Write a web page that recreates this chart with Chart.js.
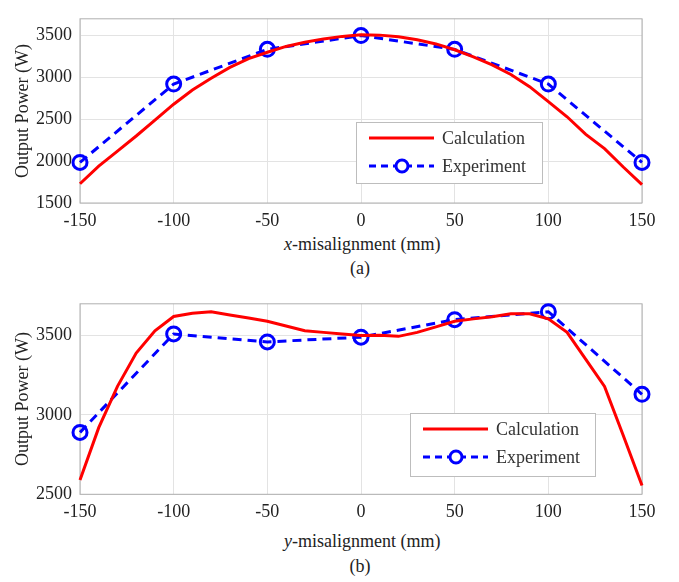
<!DOCTYPE html>
<html>
<head>
<meta charset="utf-8">
<script src="https://cdn.jsdelivr.net/npm/chart.js@4/dist/chart.umd.min.js"></script>
<style>
  body { margin: 0; background: #fff; width: 679px; height: 582px; position: relative; overflow: hidden; }
  .box { position: absolute; left: 0; width: 679px; }
  .lbl { position: absolute; left: 0; width: 720px; text-align: center; font: 18px "Liberation Serif", serif; color: #222; line-height: 20px; }
</style>
</head>
<body>
<div class="box" style="top:0;height:230px"><canvas id="chartA"></canvas></div>
<div class="lbl" style="top:234px">&nbsp;<i>x</i>-misalignment (mm)</div>
<div class="lbl" style="top:258px">(a)</div>
<div class="box" style="top:285px;height:235px"><canvas id="chartB"></canvas></div>
<div class="lbl" style="top:531px">&nbsp;<i>y</i>-misalignment (mm)</div>
<div class="lbl" style="top:556px">(b)</div>
<script>
// calculation points every 10 mm, experiment every 50 mm
var xCalc = [-150,-140,-130,-120,-110,-100,-90,-80,-70,-60,-50,-40,-30,-20,-10,0,10,20,30,40,50,60,70,80,90,100,110,120,130,140,150];
var calcA = [1730,1940,2120,2300,2490,2680,2850,2990,3120,3225,3300,3370,3420,3460,3490,3510,3505,3485,3450,3400,3330,3245,3150,3035,2890,2710,2530,2320,2150,1930,1720];
var calcB = [2590,2920,3180,3390,3530,3620,3640,3650,3630,3610,3590,3560,3530,3520,3510,3500,3502,3495,3520,3555,3590,3605,3618,3637,3637,3605,3520,3350,3180,2870,2555];

var xExp = [-150,-100,-50,0,50,100,150];
var expA = [1985,2920,3335,3500,3335,2920,1985];
var expB = [2890,3510,3460,3490,3600,3650,3130];

var xTicks = [-150,-100,-50,0,50,100,150];
var yTicksA = [1500,2000,2500,3000,3500];
var yTicksB = [2500,3000,3500];

var serif = '"Liberation Serif", "Times New Roman", serif';

function pts(xs, ys) {
  return xs.map(function (x, i) { return { x: x, y: ys[i] }; });
}

// plot frame drawn under the lines
var frame = {
  id: 'frame',
  beforeDatasetsDraw: function (chart) {
    var a = chart.chartArea, ctx = chart.ctx;
    ctx.save();
    ctx.strokeStyle = '#b0b0b0';
    ctx.lineWidth = 1;
    ctx.strokeRect(a.left, a.top, a.right - a.left, a.bottom - a.top);
    ctx.restore();
  }
};

// matlab style legend box at a fixed spot
var legendBox = {
  id: 'legendBox',
  afterDatasetsDraw: function (chart, args, o) {
    var ctx = chart.ctx;
    ctx.save();
    ctx.fillStyle = '#fff';
    ctx.fillRect(o.x, o.y, o.w, o.h);
    ctx.strokeStyle = '#bdbdbd';
    ctx.lineWidth = 1;
    ctx.strokeRect(o.x + 0.5, o.y + 0.5, o.w, o.h);
    chart.data.datasets.forEach(function (ds, i) {
      var ry = o.y + 16 + i * 28;
      ctx.strokeStyle = ds.borderColor;
      ctx.lineWidth = ds.borderWidth;
      ctx.setLineDash(ds.borderDash ? [7, 5] : []);
      ctx.beginPath();
      ctx.moveTo(o.x + 13, ry);
      ctx.lineTo(o.x + 78, ry);
      ctx.stroke();
      ctx.setLineDash([]);
      if (ds.pointRadius) {
        ctx.fillStyle = '#fff';
        ctx.beginPath();
        ctx.arc(o.x + 46, ry, ds.pointRadius - 1, 0, Math.PI * 2);
        ctx.fill();
        ctx.lineWidth = ds.pointBorderWidth;
        ctx.strokeStyle = ds.pointBorderColor;
        ctx.stroke();
      }
      ctx.fillStyle = '#333';
      ctx.font = '18px ' + serif;
      ctx.textBaseline = 'middle';
      ctx.fillText(ds.label, o.x + 86, ry + 1);
    });
    ctx.restore();
  }
};

function plain(v) { return String(v); }

function makeChart(id, calc, exp, yMin, yMax, yTicks, padTop, xHeight, leg) {
  return new Chart(document.getElementById(id), {
    type: 'line',
    data: {
      datasets: [
        {
          label: 'Calculation',
          data: pts(xCalc, calc),
          borderColor: '#ff0000',
          borderWidth: 3,
          pointRadius: 0,
          tension: 0,
          clip: false
        },
        {
          label: 'Experiment',
          data: pts(xExp, exp),
          borderColor: '#0000ff',
          borderWidth: 3,
          borderDash: [9, 6],
          pointRadius: 7,
          pointHoverRadius: 7,
          pointBorderWidth: 3,
          pointBorderColor: '#0000ff',
          pointBackgroundColor: 'rgba(255,255,255,0)',
          tension: 0,
          clip: false
        }
      ]
    },
    options: {
      responsive: true,
      maintainAspectRatio: false,
      animation: false,
      layout: { padding: { top: padTop, right: 37, left: 0, bottom: 0 } },
      plugins: {
        legend: { display: false },
        tooltip: { enabled: false },
        legendBox: leg
      },
      scales: {
        x: {
          type: 'linear',
          min: -150,
          max: 150,
          afterBuildTicks: function (s) { s.ticks = xTicks.map(function (v) { return { value: v }; }); },
          afterFit: function (s) { s.height = xHeight; },
          grid: { color: '#e3e3e3', drawTicks: false },
          border: { display: false },
          ticks: { padding: 7, color: '#222', font: { family: serif, size: 18 }, callback: plain }
        },
        y: {
          min: yMin,
          max: yMax,
          afterBuildTicks: function (s) { s.ticks = yTicks.map(function (v) { return { value: v }; }); },
          afterFit: function (s) { s.width = 80; },
          grid: { color: '#e3e3e3', drawTicks: false },
          border: { display: false },
          ticks: { padding: 8, color: '#222', font: { family: serif, size: 18 }, callback: plain },
          title: {
            display: true,
            text: 'Output Power (W)',
            color: '#222',
            padding: { top: 12, bottom: 0 },
            font: { family: serif, size: 18 }
          }
        }
      }
    },
    plugins: [frame, legendBox]
  });
}

makeChart('chartA', calcA, expA, 1500, 3700, yTicksA, 2.7, 27, { x: 356, y: 122, w: 186, h: 61 });
makeChart('chartB', calcB, expB, 2500, 3700, yTicksB, 8.2, 25.7, { x: 410, y: 128, w: 185, h: 63 });
</script>
</body>
</html>
